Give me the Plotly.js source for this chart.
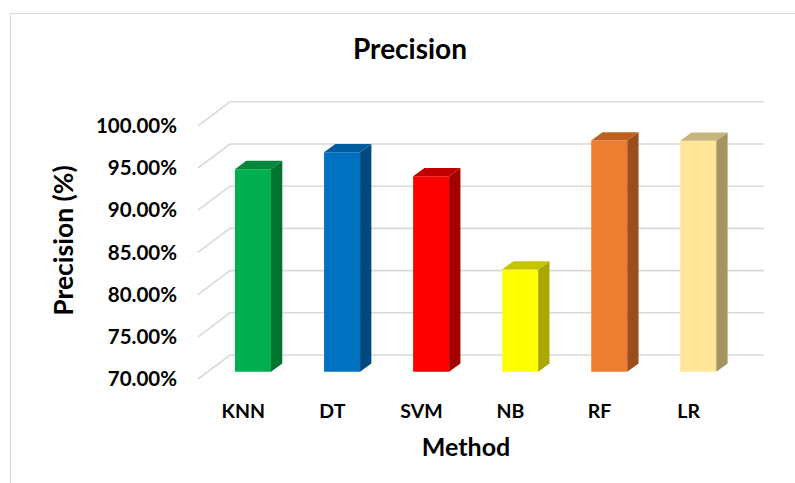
<!DOCTYPE html>
<html>
<head>
<meta charset="utf-8">
<script src="https://cdn.plot.ly/plotly-3.0.1.min.js"></script>
<style>
  html, body { margin: 0; padding: 0; background: #fff; }
  #frame { position: absolute; left: 10px; top: 13px; width: 800px; height: 480px;
           border-top: 1.5px solid #d9d9d9; border-left: 1.5px solid #d9d9d9; }
  #chart { position: absolute; left: 0; top: 0; width: 795px; height: 483px; }
</style>
</head>
<body>
<div id="frame"></div>
<div id="chart"></div>
<script>
// ---- data ----
const methods = ["KNN", "DT", "SVM", "NB", "RF", "LR"];
const precision = [94.0, 96.0, 93.15, 82.1, 97.4, 97.35];
const tickValues = [70, 75, 80, 85, 90, 95, 100];
const tickLabels = ["70.00%", "75.00%", "80.00%", "85.00%", "90.00%", "95.00%", "100.00%"];
const frontColors = ["#00b050", "#0070c0", "#ff0000", "#ffff00", "#ed7d31", "#ffe699"];
const sideColors  = ["#00732f", "#004a80", "#a30000", "#a8a800", "#9a4d1d", "#a59462"];
const topColors   = ["#00873b", "#005a9e", "#c00000", "#c4c400", "#c0601f", "#c8b57e"];

// ---- geometry (pixels -> data units) ----
const W = 795, H = 483;
const L = 198, R = 734, T = 100, B = 381;
const kx = 89.06, ky = 8.44;          // px per category, px per percent
const x0px = 253, y70px = 371.7;       // pixel of first bar centre, of 70%
const xmin = -(x0px - L) / kx, xmax = xmin + (R - L) / kx;
const ymin = 70 - (B - y70px) / ky, ymax = ymin + (B - T) / ky;
const base = 70;
const barW = 36 / kx;
// depth offsets relative to bar front plane
const front = {dx: -9.7 / kx, dy: -7.3 / ky};
const back  = {dx: 22.3 / kx, dy: 16.7 / ky};
const depth = {dx: 11.3 / kx, dy: 8.3 / ky};
// gridline horizontal extent (paper fractions)
const pw = R - L;
const gxFront = 0, gxBack = 32 / pw, gxRight = (764 - L) / pw;

// gridlines (front diagonal + back wall), drawn beneath the bars
const shapes = tickValues.map(t => ({
  type: "path", layer: "below", xref: "paper", yref: "y",
  path: `M${gxFront},${t + front.dy} L${gxBack},${t + back.dy} L${gxRight},${t + back.dy}`,
  line: {color: "#d9d9d9", width: 1.6}
}));

const traces = [];
// side & top faces
methods.forEach((m, i) => {
  const v = precision[i];
  const xr = i + barW / 2, xl = i - barW / 2;
  traces.push({
    type: "scatter", mode: "lines", fill: "toself", fillcolor: sideColors[i],
    x: [xr, xr, xr + depth.dx, xr + depth.dx, xr],
    y: [base, v, v + depth.dy, base + depth.dy, base],
    line: {width: 0, color: sideColors[i]}, hoverinfo: "skip", showlegend: false
  });
  traces.push({
    type: "scatter", mode: "lines", fill: "toself", fillcolor: topColors[i],
    x: [xl, xr, xr + depth.dx, xl + depth.dx, xl],
    y: [v, v, v + depth.dy, v + depth.dy, v],
    line: {width: 0, color: topColors[i]}, hoverinfo: "skip", showlegend: false
  });
});

// front faces
traces.push({
  type: "bar",
  x: methods.map((m, i) => i),
  y: precision.map(v => v - base),
  base: base,
  width: barW,
  marker: {color: frontColors, line: {width: 0}},
  hovertext: methods, hoverinfo: "text", textposition: "none", showlegend: false
});

const font = {family: "Lato, 'Open Sans', sans-serif", color: "#000", weight: "bold"};

const layout = {
  width: W, height: H,
  margin: {l: L, r: W - R, t: T, b: H - B, pad: 0},
  paper_bgcolor: "rgba(0,0,0,0)", plot_bgcolor: "rgba(0,0,0,0)",
  showlegend: false,
  shapes: shapes,
  title: {
    text: "Precision", x: 410 / W, xanchor: "center",
    y: 1 - 49 / H, yanchor: "middle", yref: "container",
    font: Object.assign({}, font, {size: 28})
  },
  xaxis: {
    range: [xmin, xmax], showgrid: false, zeroline: false, showline: false,
    tickmode: "array",
    tickvals: methods.map((m, i) => i + front.dx),
    ticktext: methods, ticks: "",
    ticklabelstandoff: 16,
    tickfont: Object.assign({}, font, {size: 19.5}),
    title: {text: "Method", standoff: 17, font: Object.assign({}, font, {size: 25})}
  },
  yaxis: {
    range: [ymin, ymax], showgrid: false, zeroline: false, showline: false,
    tickmode: "array",
    tickvals: tickValues.map(t => t + front.dy),
    ticktext: tickLabels, ticks: "",
    ticklabelstandoff: 20,
    tickfont: Object.assign({}, font, {size: 20.5}),
    title: {text: "Precision (%)", standoff: 14, font: Object.assign({}, font, {size: 26.5})}
  }
};

Plotly.newPlot("chart", traces, layout, {displayModeBar: false, staticPlot: true});
</script>
</body>
</html>
